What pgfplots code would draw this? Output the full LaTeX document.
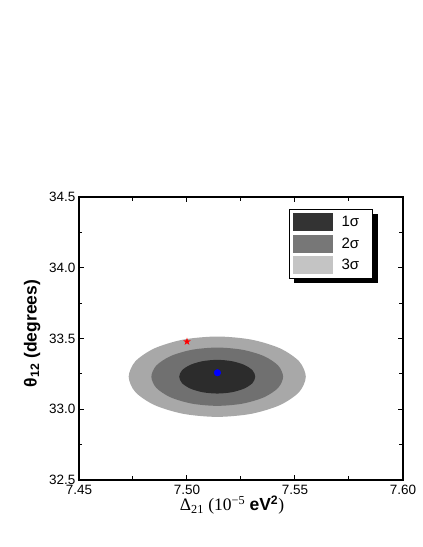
\documentclass[border=0pt]{standalone}
\usepackage{fontspec}
\setmainfont{Liberation Sans}
\newfontfamily\serif{Liberation Serif}
\usepackage{pgfplots}
\pgfplotsset{compat=1.18}
\usetikzlibrary{backgrounds}
\definecolor{ellA}{HTML}{2C2C2C}
\definecolor{ellB}{HTML}{707070}
\definecolor{ellC}{HTML}{A8A8A8}
\definecolor{legA}{HTML}{333333}
\definecolor{legB}{HTML}{777777}
\definecolor{legC}{HTML}{C4C4C4}
\pgfdeclareplotmark{fstar}{%
  \pgfpathmoveto{\pgfqpointpolar{90}{\pgfplotmarksize}}%
  \pgfpathlineto{\pgfqpointpolar{234}{\pgfplotmarksize}}%
  \pgfpathlineto{\pgfqpointpolar{18}{\pgfplotmarksize}}%
  \pgfpathlineto{\pgfqpointpolar{162}{\pgfplotmarksize}}%
  \pgfpathlineto{\pgfqpointpolar{306}{\pgfplotmarksize}}%
  \pgfpathclose\pgfusepathqfill}
\newcommand{\legtxt}[1]{\makebox[28pt][l]{#1}}
\begin{document}
\begin{tikzpicture}[x=1pt,y=1pt]
\useasboundingbox (0,0) rectangle (423,547);
\begin{axis}[at={(79pt,67pt)}, anchor=south west,
  width=324pt, height=283pt, scale only axis,
  xmin=7.45, xmax=7.60, ymin=32.5, ymax=34.5,
  xtick={7.45,7.50,7.55,7.60}, ytick={32.5,33.0,33.5,34.0,34.5},
  minor x tick num=1, minor y tick num=1,
  tick align=inside,
  major tick length=5pt, minor tick length=3.5pt,
  axis line style={line width=1.2pt},
  every tick/.style={line width=1pt, black},
  /pgf/number format/assume math mode=true,
  tick label style={font=\fontsize{13.5}{16}\selectfont},
  xticklabel style={yshift=-2pt,/pgf/number format/fixed,/pgf/number format/fixed zerofill,/pgf/number format/precision=2},
  yticklabel style={/pgf/number format/fixed,/pgf/number format/fixed zerofill,/pgf/number format/precision=1},
  xlabel={\fontsize{17.5}{20}\selectfont{\serif Δ\textsubscript{21} (10\textsuperscript{−5} }\textbf{eV\textsuperscript{2}}{\serif )}},
  xlabel style={yshift=6pt, xshift=-9pt},
  ylabel={\fontsize{17.5}{20}\selectfont\bfseries θ\textsubscript{12} (degrees)},
  ylabel style={xshift=5pt, yshift=2pt},
  legend entries={\legtxt{1σ},\legtxt{2σ},\legtxt{3σ}},
  legend cell align=left,
  legend image code/.code={\fill[#1, draw=none] (0pt,-9pt) rectangle (40pt,9pt);},
  legend style={name=leg, at={(0.907,0.958)}, anchor=north east, draw=black, line width=0.5pt,
    fill=white, font=\fontsize{15}{17}\selectfont, inner xsep=3pt, inner ysep=4pt,
    row sep=3.5pt, column sep=9pt, nodes={inner sep=0pt, draw=none}},
]
\addlegendimage{fill=legA}
\addlegendimage{fill=legB}
\addlegendimage{fill=legC}
\addplot[fill=ellC, draw=none, smooth cycle] coordinates {
  (7.5140,33.514) (7.4983,33.4924) (7.4850,33.4308) (7.4761,33.3387)
  (7.4730,33.230) (7.4761,33.1213) (7.4850,33.0292) (7.4983,32.9676)
  (7.5140,32.946) (7.5297,32.9676) (7.5430,33.0292) (7.5519,33.1213)
  (7.5550,33.230) (7.5519,33.3387) (7.5430,33.4308) (7.5297,33.4924)};
\addplot[fill=ellB, draw=none, smooth cycle] coordinates {
  (7.5140,33.436) (7.5023,33.4203) (7.4924,33.3757) (7.4858,33.3088)
  (7.4835,33.230) (7.4858,33.1512) (7.4924,33.0843) (7.5023,33.0397)
  (7.5140,33.024) (7.5257,33.0397) (7.5356,33.0843) (7.5422,33.1512)
  (7.5445,33.230) (7.5422,33.3088) (7.5356,33.3757) (7.5257,33.4203)};
\addplot[fill=ellA, draw=none, smooth cycle] coordinates {
  (7.5140,33.349) (7.5073,33.3399) (7.5016,33.3142) (7.4977,33.2755)
  (7.4964,33.230) (7.4977,33.1845) (7.5016,33.1458) (7.5073,33.1201)
  (7.5140,33.111) (7.5207,33.1201) (7.5264,33.1458) (7.5303,33.1845)
  (7.5316,33.230) (7.5303,33.2755) (7.5264,33.3142) (7.5207,33.3399)};
\addplot[only marks, mark=*, mark size=3.3pt, color=blue] coordinates {(7.5141,33.258)};
\addplot[only marks, mark=fstar, mark size=4pt, color=red] coordinates {(7.5000,33.478)};
\end{axis}
\begin{pgfonlayer}{background}
\fill[black] ([xshift=5pt,yshift=-5pt]leg.south west) rectangle ([xshift=5pt,yshift=-5pt]leg.north east);
\end{pgfonlayer}
\end{tikzpicture}
\end{document}
